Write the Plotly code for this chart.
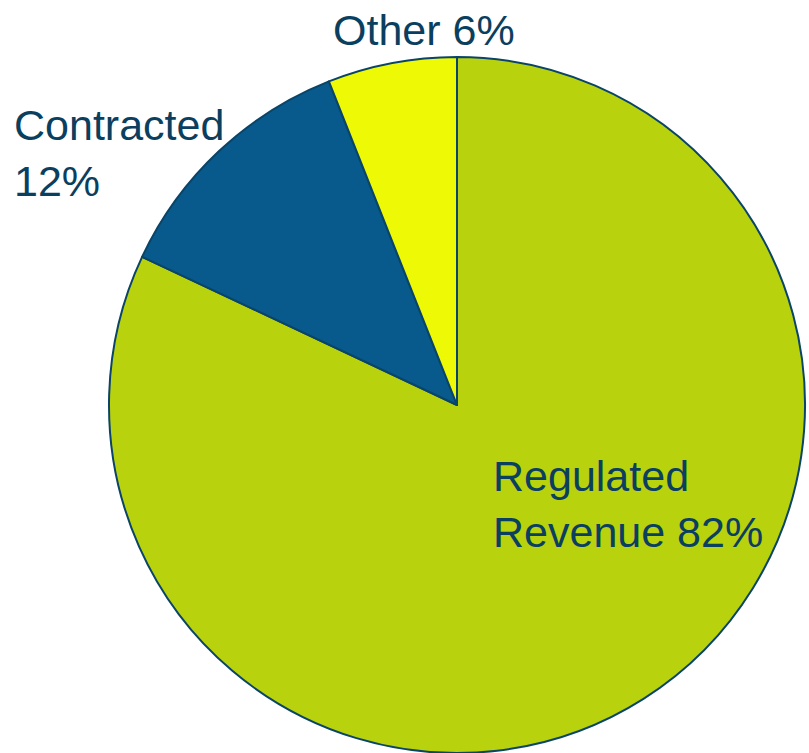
import plotly.graph_objects as go

# Revenue mix
segments = ["Regulated Revenue", "Contracted", "Other"]
shares = [82, 12, 6]
colors = ["#B8D20E", "#075A8B", "#EEFA05"]
label_texts = ["Regulated<br>Revenue 82%", "Contracted<br>12%", "Other 6%"]

W, H = 809, 753
TOP = 57
TEXT_COLOR = "#0B3F5F"
FONT = "Liberation Sans, Arial, sans-serif"

fig = go.Figure(
    go.Pie(
        labels=segments,
        values=shares,
        sort=False,
        direction="clockwise",
        rotation=0,
        marker=dict(colors=colors, line=dict(color="#0A4468", width=2)),
        textinfo="none",
        hoverinfo="label+percent",
        showlegend=False,
        domain=dict(x=[105 / W, 1.0], y=[0, 1]),
    )
)


def px_to_paper(px, py):
    return px / W, 1 - (py - TOP) / (H - TOP)


# label anchor points (left edge, vertical centre of text block) in pixels
label_pos = [(491, 504), (12, 153), (331, 30)]

for text, (px, py) in zip(label_texts, label_pos):
    x, y = px_to_paper(px, py)
    fig.add_annotation(
        x=x, y=y, xref="paper", yref="paper",
        xanchor="left", yanchor="middle", align="left",
        text=text, showarrow=False,
        font=dict(family=FONT, size=43, color=TEXT_COLOR),
    )

fig.update_layout(
    width=W, height=H,
    margin=dict(l=0, r=0, t=TOP, b=0),
    paper_bgcolor="white",
    plot_bgcolor="white",
)

fig.write_html("out.html")
